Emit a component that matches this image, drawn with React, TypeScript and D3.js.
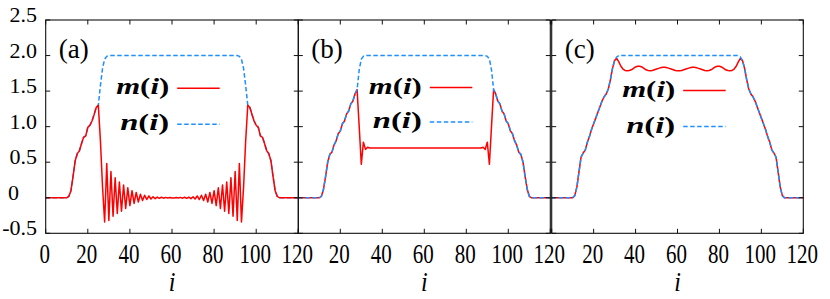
import React from 'react';
import * as d3 from 'd3';

// site index i = 0..120
const SITES: number[] = d3.range(0, 121);
const X_TICKS = [0, 20, 40, 60, 80, 100, 120];
const Y_TICKS = [-0.5, 0, 0.5, 1.0, 1.5, 2.0, 2.5];
const Y_TICK_LABELS = ['-0.5', '0', '0.5', '1.0', '1.5', '2.0', '2.5'];
const PANEL_LABELS = ['(a)', '(b)', '(c)'];
const SERIES_NAMES = ['m', 'n'];

// ---- panel (a) ----
const nA = [
  0, 0, 0, 0, 0, 0, 0, 0, 0, 0, 0,
  0.02, 0.10, 0.30, 0.52, 0.62, 0.66, 0.76, 0.85, 0.87, 0.99,
  1.02, 1.08, 1.17, 1.27, 1.30, 1.58, 1.82, 1.95, 1.99, 2.00,
  2, 2, 2, 2, 2, 2, 2, 2, 2, 2,
  2, 2, 2, 2, 2, 2, 2, 2, 2, 2,
  2, 2, 2, 2, 2, 2, 2, 2, 2, 2,
  2, 2, 2, 2, 2, 2, 2, 2, 2, 2,
  2, 2, 2, 2, 2, 2, 2, 2, 2, 2,
  2, 2, 2, 2, 2, 2, 2, 2, 2, 2,
  2.00, 1.99, 1.95, 1.82, 1.58, 1.30, 1.27, 1.17, 1.08, 1.02,
  0.99, 0.87, 0.85, 0.76, 0.66, 0.62, 0.52, 0.30, 0.10, 0.02,
  0, 0, 0, 0, 0, 0, 0, 0, 0, 0,
];
const mA = [
  0, 0, 0, 0, 0, 0, 0, 0, 0, 0, 0,
  0.02, 0.10, 0.30, 0.52, 0.62, 0.66, 0.76, 0.85, 0.87, 0.99,
  1.02, 1.08, 1.17, 1.27, 1.30, 0.80, 0.15, -0.34, 0.48, -0.32,
  0.37, -0.26, 0.28, -0.22, 0.22, -0.19, 0.18, -0.15, 0.14, -0.11,
  0.10, -0.08, 0.075, -0.06, 0.05, -0.04, 0.035, -0.025, 0.025, -0.018,
  0.015, -0.012, 0.01, -0.008, 0.007, -0.006, 0.005, -0.004, 0.003, -0.002,
  -0.002, 0.003, -0.004, 0.005, -0.006, 0.007, -0.008, 0.01, -0.012, 0.015,
  -0.018, 0.025, -0.025, 0.035, -0.04, 0.05, -0.06, 0.075, -0.08, 0.10,
  -0.11, 0.14, -0.15, 0.18, -0.19, 0.22, -0.22, 0.28, -0.26, 0.37,
  -0.32, 0.48, -0.34, 0.15, 0.80, 1.30, 1.27, 1.17, 1.08, 1.02,
  0.99, 0.87, 0.85, 0.76, 0.66, 0.62, 0.52, 0.30, 0.10, 0.02,
  0, 0, 0, 0, 0, 0, 0, 0, 0, 0,
];

// ---- panel (b) ----
const nB = [
  0, 0, 0, 0, 0, 0, 0, 0, 0, 0, 0,
  0.02, 0.12, 0.30, 0.50, 0.61, 0.64, 0.74, 0.80, 0.90, 0.94,
  1.04, 1.08, 1.18, 1.22, 1.32, 1.36, 1.46, 1.52, 1.80, 1.95,
  1.99, 2, 2, 2, 2, 2, 2, 2, 2, 2,
  2, 2, 2, 2, 2, 2, 2, 2, 2, 2,
  2, 2, 2, 2, 2, 2, 2, 2, 2, 2,
  2, 2, 2, 2, 2, 2, 2, 2, 2, 2,
  2, 2, 2, 2, 2, 2, 2, 2, 2, 2,
  2, 2, 2, 2, 2, 2, 2, 2, 2, 1.99,
  1.95, 1.80, 1.52, 1.46, 1.36, 1.32, 1.22, 1.18, 1.08, 1.04,
  0.94, 0.90, 0.80, 0.74, 0.64, 0.61, 0.50, 0.30, 0.12, 0.02,
  0, 0, 0, 0, 0, 0, 0, 0, 0, 0,
];
const mB = [
  0, 0, 0, 0, 0, 0, 0, 0, 0, 0, 0,
  0.02, 0.12, 0.30, 0.50, 0.61, 0.64, 0.74, 0.80, 0.90, 0.94,
  1.04, 1.08, 1.18, 1.22, 1.32, 1.36, 1.46, 1.52, 1.00, 0.47,
  0.78, 0.68, 0.71, 0.70, 0.70, 0.70, 0.70, 0.70, 0.70, 0.70,
  0.70, 0.70, 0.70, 0.70, 0.70, 0.70, 0.70, 0.70, 0.70, 0.70,
  0.70, 0.70, 0.70, 0.70, 0.70, 0.70, 0.70, 0.70, 0.70, 0.70,
  0.70, 0.70, 0.70, 0.70, 0.70, 0.70, 0.70, 0.70, 0.70, 0.70,
  0.70, 0.70, 0.70, 0.70, 0.70, 0.70, 0.70, 0.70, 0.70, 0.70,
  0.70, 0.70, 0.70, 0.70, 0.70, 0.70, 0.70, 0.71, 0.68, 0.78,
  0.47, 1.00, 1.52, 1.46, 1.36, 1.32, 1.22, 1.18, 1.08, 1.04,
  0.94, 0.90, 0.80, 0.74, 0.64, 0.61, 0.50, 0.30, 0.12, 0.02,
  0, 0, 0, 0, 0, 0, 0, 0, 0, 0,
];

// ---- panel (c) ----
const nC = [
  0, 0, 0, 0, 0, 0, 0, 0, 0, 0, 0,
  0.03, 0.15, 0.36, 0.57, 0.63, 0.67, 0.78, 0.86, 0.96, 1.04,
  1.12, 1.20, 1.28, 1.36, 1.42, 1.46, 1.53, 1.66, 1.82, 1.93,
  1.98, 2, 2, 2, 2, 2, 2, 2, 2, 2,
  2, 2, 2, 2, 2, 2, 2, 2, 2, 2,
  2, 2, 2, 2, 2, 2, 2, 2, 2, 2,
  2, 2, 2, 2, 2, 2, 2, 2, 2, 2,
  2, 2, 2, 2, 2, 2, 2, 2, 2, 2,
  2, 2, 2, 2, 2, 2, 2, 2, 2, 1.98,
  1.93, 1.82, 1.66, 1.53, 1.46, 1.42, 1.36, 1.28, 1.20, 1.12,
  1.04, 0.96, 0.86, 0.78, 0.67, 0.63, 0.57, 0.36, 0.15, 0.03,
  0, 0, 0, 0, 0, 0, 0, 0, 0, 0,
];
const mC = [
  0, 0, 0, 0, 0, 0, 0, 0, 0, 0, 0,
  0.03, 0.15, 0.36, 0.57, 0.63, 0.67, 0.78, 0.86, 0.96, 1.04,
  1.12, 1.20, 1.28, 1.36, 1.42, 1.46, 1.53, 1.66, 1.82, 1.93,
  1.96, 1.91, 1.85, 1.81, 1.79, 1.785, 1.79, 1.80, 1.82, 1.84,
  1.85, 1.85, 1.84, 1.82, 1.80, 1.79, 1.785, 1.79, 1.80, 1.81,
  1.82, 1.83, 1.835, 1.835, 1.83, 1.82, 1.81, 1.80, 1.79, 1.785,
  1.785, 1.79, 1.80, 1.81, 1.82, 1.83, 1.835, 1.835, 1.83, 1.82,
  1.81, 1.80, 1.79, 1.785, 1.79, 1.80, 1.82, 1.84, 1.85, 1.85,
  1.84, 1.82, 1.80, 1.79, 1.785, 1.79, 1.81, 1.85, 1.91, 1.96,
  1.93, 1.82, 1.66, 1.53, 1.46, 1.42, 1.36, 1.28, 1.20, 1.12,
  1.04, 0.96, 0.86, 0.78, 0.67, 0.63, 0.57, 0.36, 0.15, 0.03,
  0, 0, 0, 0, 0, 0, 0, 0, 0, 0,
];

const RED = '#ff0000';
const BLUE = '#1e8fff';
const FONT = "'Liberation Serif', 'DejaVu Serif', serif";
const Y_TOP = 20;
const Y_BOT = 233.3;

const PANELS = [
  { x0: 45.7, x1: 298.3, m: mA, n: nA, nOnTop: false, firstXLabel: true, legY: [88.3, 124.3] },
  { x0: 298.3, x1: 550.3, m: mB, n: nB, nOnTop: true, firstXLabel: false, legY: [87.5, 122] },
  { x0: 551.7, x1: 803.3, m: mC, n: nC, nOnTop: true, firstXLabel: false, legY: [90.5, 126.5] },
];

const y = d3.scaleLinear().domain([-0.5, 2.5]).range([Y_BOT, Y_TOP]);

function Panel({ p, idx }: { p: typeof PANELS[number]; idx: number }) {
  const x = d3.scaleLinear().domain([0, 120]).range([p.x0, p.x1]);
  const line = d3.line<number>().x((_, k) => x(SITES[k])).y((d) => y(d));
  const mPath = line(p.m) || '';
  const nPath = line(p.n) || '';
  const mEl = <path key="m" d={mPath} fill="none" stroke={RED} strokeWidth={1.5} strokeLinejoin="round" />;
  const nEl = <path key="n" d={nPath} fill="none" stroke={BLUE} strokeWidth={1.5} strokeDasharray="4.5,2.5" />;
  const tick = 4.5;
  const lx0 = p.x0 + 123.5;
  const lineA = p.x0 + 131.5;
  const lineB = p.x0 + 174;
  const xlabs = X_TICKS.filter((t) => p.firstXLabel || t !== 0);
  return (
    <g>
      {p.nOnTop ? [mEl, nEl] : [nEl, mEl]}
      <rect x={p.x0} y={Y_TOP} width={p.x1 - p.x0} height={Y_BOT - Y_TOP} fill="none" stroke="#111" strokeWidth={1.1} />
      {X_TICKS.map((t) => (
        <g key={'xt' + t}>
          <line x1={x(t)} x2={x(t)} y1={Y_BOT} y2={Y_BOT - tick} stroke="#111" strokeWidth={1} />
          <line x1={x(t)} x2={x(t)} y1={Y_TOP} y2={Y_TOP + tick} stroke="#111" strokeWidth={1} />
        </g>
      ))}
      {Y_TICKS.map((t) => (
        <g key={'yt' + t}>
          <line x1={p.x0} x2={p.x0 + tick} y1={y(t)} y2={y(t)} stroke="#111" strokeWidth={1} />
          <line x1={p.x1} x2={p.x1 - tick} y1={y(t)} y2={y(t)} stroke="#111" strokeWidth={1} />
        </g>
      ))}
      {xlabs.map((t) => (
        <text key={'xl' + t} transform={`translate(${x(t) - 1},262.5) scale(1,1.32)`} textAnchor="middle"
          style={{ fontFamily: FONT }} fontSize={21} fill="#000">{t}</text>
      ))}
      <text transform={`translate(${x(60)},291) scale(1,1.15)`} textAnchor="middle" style={{ fontFamily: FONT }}
        fontStyle="italic" fontSize={24} fill="#000">i</text>
      <text x={p.x0 + 13} y={57.5} style={{ fontFamily: FONT }} fontSize={27} fill="#000">{PANEL_LABELS[idx]}</text>
      {SERIES_NAMES.map((s, k) => (
        <g key={'lg' + s}>
          <text x={lx0 - (k === 0 ? 53 : 49)} y={p.legY[k] + 6} style={{ fontFamily: FONT }} fontSize={23} fill="#000"
            fontWeight={600}
            textLength={k === 0 ? 53 : 49} lengthAdjust="spacingAndGlyphs">
            <tspan fontStyle="italic">{s}</tspan>(<tspan fontStyle="italic">i</tspan>)
          </text>
          <line x1={lineA} x2={lineB} y1={p.legY[k]} y2={p.legY[k]} stroke={k === 0 ? RED : BLUE}
            strokeWidth={1.5} strokeDasharray={k === 0 ? undefined : '4.5,2.5'} />
        </g>
      ))}
    </g>
  );
}

export default function App() {
  return (
    <svg width={830} height={299} viewBox="0 0 830 299"
      style={{ position: 'absolute', left: 0, top: 0, background: '#fff' }}>
      <rect x={0} y={0} width={830} height={299} fill="#fff" />
      {PANELS.map((p, i) => <Panel key={i} p={p} idx={i} />)}
      {Y_TICKS.map((t, k) => (
        <text key={'yl' + t} x={t === 0 ? 8 : 37} y={y(t) + 2} textAnchor={t === 0 ? 'start' : 'end'}
          style={{ fontFamily: FONT }} fontSize={22} fill="#000">{Y_TICK_LABELS[k]}</text>
      ))}
    </svg>
  );
}
